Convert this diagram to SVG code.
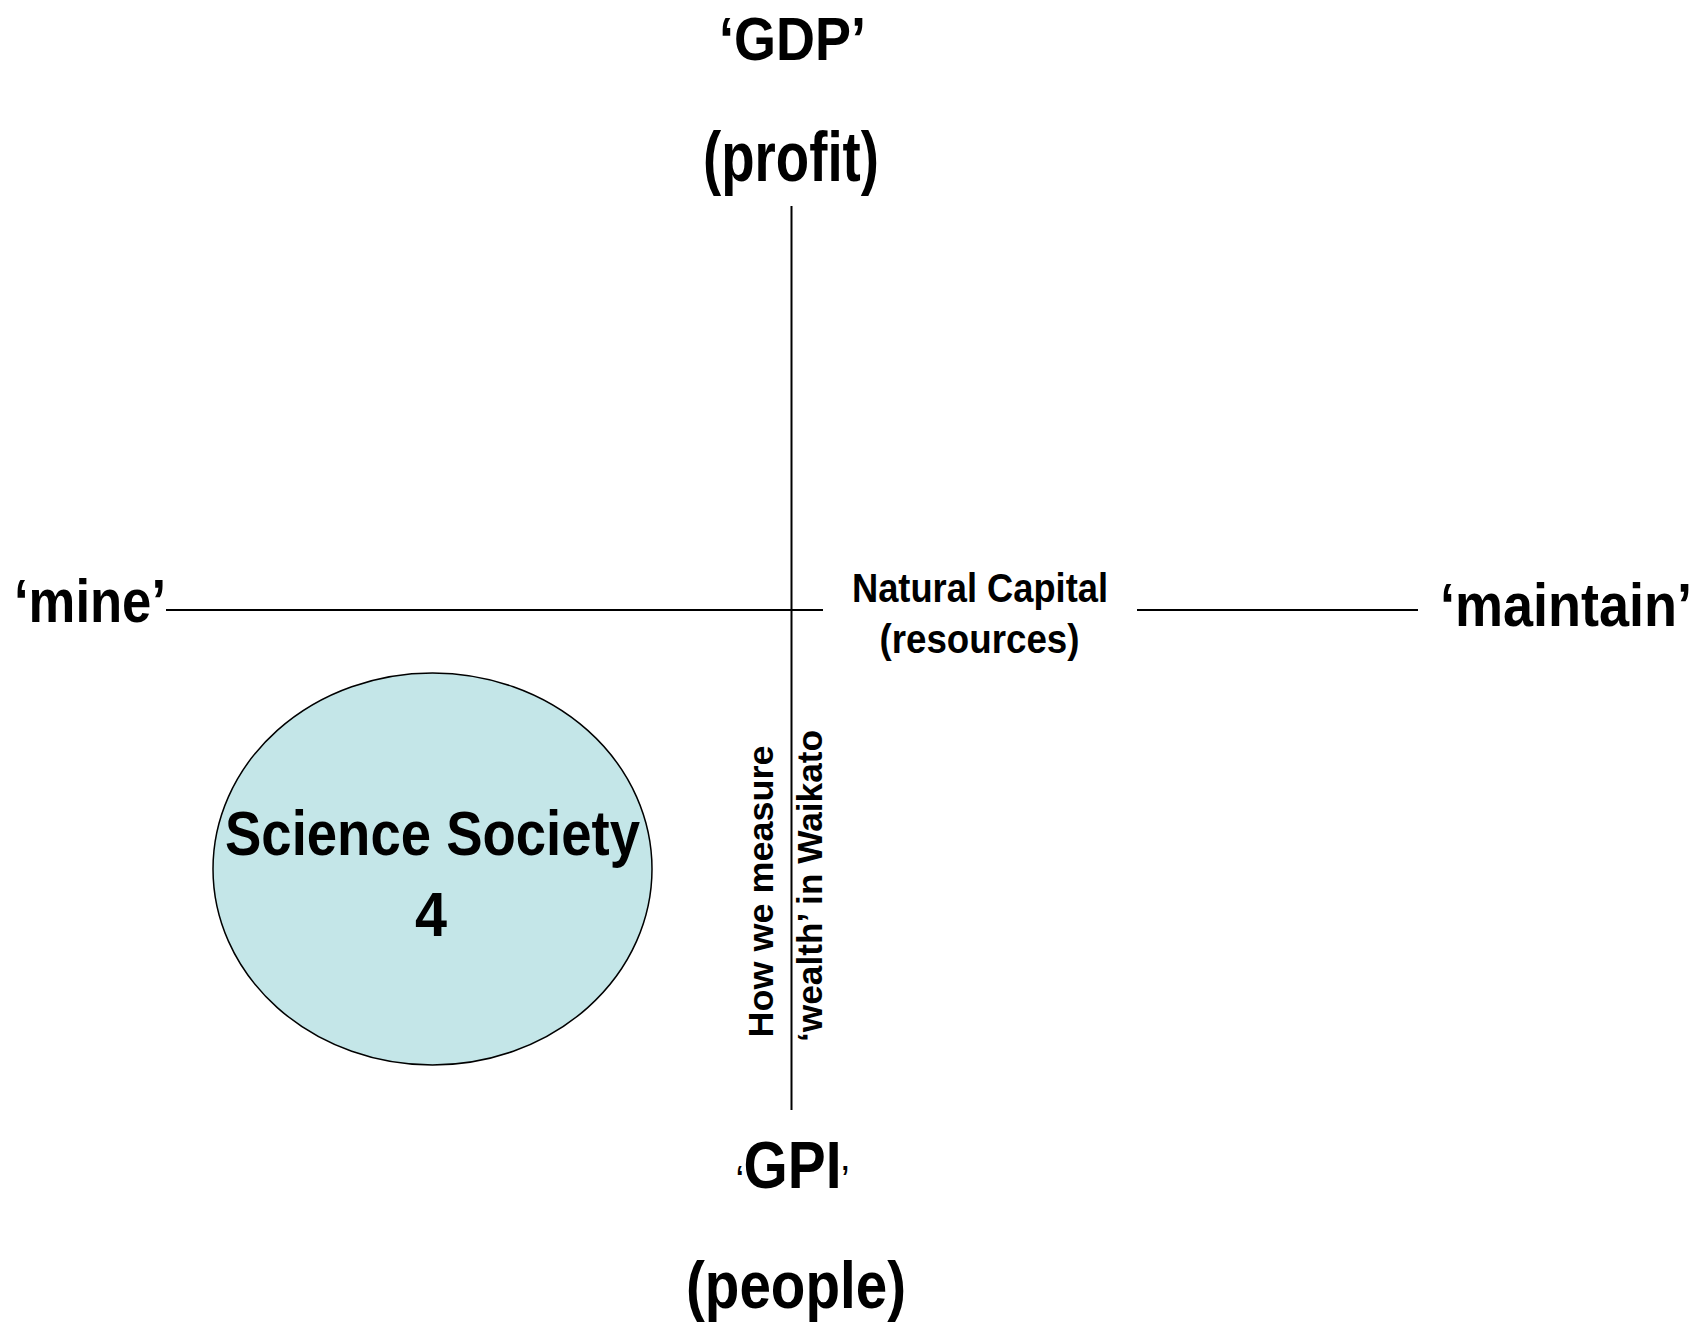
<svg xmlns="http://www.w3.org/2000/svg" width="1708" height="1325" viewBox="0 0 1708 1325">
  <style>
    .t { font-family: "Liberation Sans Narrow", "Arial Narrow", "Liberation Sans", Arial, sans-serif; font-weight: bold; fill: #000; text-anchor: middle; }
    .axis { stroke: #000; stroke-width: 2; fill: none; }
    .bubble { fill: #C4E6E8; stroke: #000; stroke-width: 1.5; }
  </style>
  <rect width="1708" height="1325" fill="#fff"/>
  <g id="connectors">
    <line class="axis" x1="791.5" y1="206" x2="791.5" y2="1110"/>
    <line class="axis" x1="166" y1="610" x2="823" y2="610"/>
    <line class="axis" x1="1137" y1="610" x2="1418" y2="610"/>
  </g>
  <g id="node-gdp">
    <text class="t" x="792.5" y="60" font-size="61" textLength="147" lengthAdjust="spacingAndGlyphs">‘GDP’</text>
    <text class="t" x="791" y="181" font-size="71" textLength="176" lengthAdjust="spacingAndGlyphs">(profit)</text>
  </g>
  <g id="node-mine">
    <text class="t" x="90" y="622" font-size="62" textLength="152" lengthAdjust="spacingAndGlyphs">‘mine’</text>
  </g>
  <g id="node-maintain">
    <text class="t" x="1566" y="626" font-size="62" textLength="252" lengthAdjust="spacingAndGlyphs">‘maintain’</text>
  </g>
  <g id="node-natural-capital">
    <text class="t" x="980" y="602" font-size="40" textLength="256" lengthAdjust="spacingAndGlyphs">Natural Capital</text>
    <text class="t" x="979.5" y="653" font-size="41" textLength="200" lengthAdjust="spacingAndGlyphs">(resources)</text>
  </g>
  <g id="node-wealth">
    <text class="t" transform="translate(773 891.5) rotate(-90)" x="0" y="0" font-size="35" textLength="292" lengthAdjust="spacingAndGlyphs">How we measure</text>
    <text class="t" transform="translate(822 886) rotate(-90)" x="0" y="0" font-size="35" textLength="312" lengthAdjust="spacingAndGlyphs">‘wealth’ in Waikato</text>
  </g>
  <g id="node-gpi">
    <text class="t" x="792.5" y="1188" font-size="67" textLength="113" lengthAdjust="spacingAndGlyphs"><tspan font-size="32">‘</tspan>GPI<tspan font-size="32">’</tspan></text>
    <text class="t" x="796" y="1308" font-size="66" textLength="220" lengthAdjust="spacingAndGlyphs">(people)</text>
  </g>
  <g id="node-science-society">
    <ellipse class="bubble" cx="432.5" cy="869" rx="219.5" ry="196"/>
    <text class="t" x="432.5" y="855" font-size="63" textLength="415" lengthAdjust="spacingAndGlyphs">Science Society</text>
    <text class="t" x="431" y="936" font-size="63" textLength="32" lengthAdjust="spacingAndGlyphs">4</text>
  </g>
</svg>
